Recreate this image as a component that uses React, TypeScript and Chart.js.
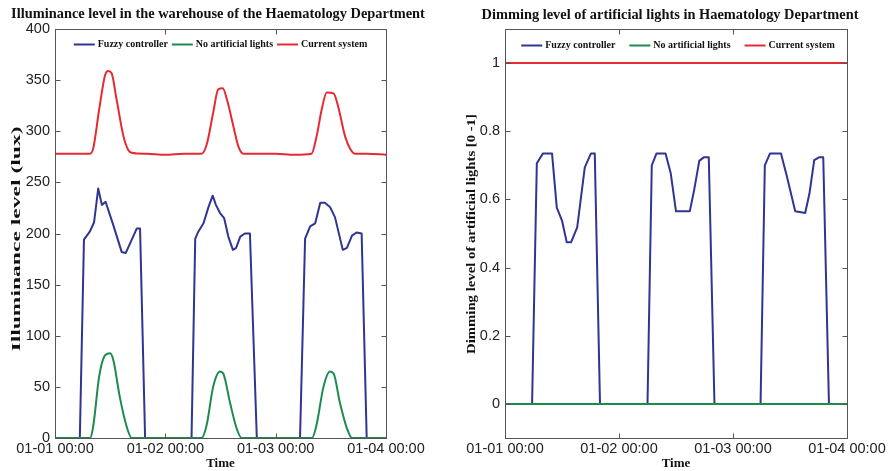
import React, { useEffect, useRef } from 'react';
import { Chart, registerables } from 'chart.js';

Chart.register(...registerables);

// ---------- shared axis data ----------
const dayTicks = [0, 24, 48, 72];
const dayLabels = ['01-01 00:00', '01-02 00:00', '01-03 00:00', '01-04 00:00'];
const seriesNames = ['Fuzzy controller', 'No artificial lights', 'Current system'];
const seriesColors = ['#2f3590', '#1d8a4e', '#e62a32'];

const luxTicks = [0, 50, 100, 150, 200, 250, 300, 350, 400];
const dimTicks = [0, 0.2, 0.4, 0.6, 0.8, 1];

// ---------- left chart: illuminance (lux) ----------
const fuzzyLuxHours = [
  0, 5.4, 6.3, 7.6, 8.5, 9.4, 10.2, 11.0, 12.7, 14.5, 15.4, 16.7, 17.8, 18.5, 19.6,
  29.7, 30.5, 31.2, 32.3, 33.4, 34.3, 35.0, 35.9, 36.8, 37.7, 38.7, 39.4, 40.3, 41.3, 42.4, 43.9,
  53.3, 54.4, 55.5, 56.6, 57.7, 58.7, 59.8, 60.9, 62.6, 63.5, 64.6, 65.6, 66.7, 67.8, 72,
];
const fuzzyLux = [
  0, 0, 194, 202, 211, 244, 228, 231, 208, 182, 181, 194, 205, 205, 0,
  0, 195, 202, 210, 226, 237, 228, 220, 215, 197, 184, 186, 197, 200, 200, 0,
  0, 195, 207, 210, 230, 230, 226, 216, 184, 186, 198, 201, 200, 0, 0,
];

const daylightLuxHours = [
  0, 7.6, 8.3, 9.6, 10.9, 12.0, 12.7, 14.1, 15.6, 16.7,
  31.9, 33.0, 34.4, 35.9, 36.6, 38.1, 39.5, 40.6,
  55.9, 56.9, 58.4, 59.8, 60.6, 62.0, 63.5, 64.6, 72,
];
const daylightLux = [
  0, 0, 11, 60, 81, 83, 76, 40, 11, 0,
  0, 13, 50, 65, 63, 34, 9.5, 0,
  0, 13, 50, 65, 63, 34, 9.5, 0, 0,
];

const currentLuxHours = [
  0, 7.6, 8.3, 9.6, 10.9, 11.6, 12.3, 13.4, 14.9, 15.9, 16.7,
  20, 24, 28,
  31.9, 33.0, 34.4, 35.5, 36.5, 37.4, 38.8, 39.9, 41.0,
  44, 48, 52,
  55.8, 56.9, 58.0, 59.1, 60.6, 61.6, 63.1, 64.2, 65.3,
  68, 72,
];
const currentLux = [
  278, 278, 283, 321, 355, 359, 357, 331, 295, 282, 279,
  278, 277, 278,
  278, 287, 318, 341, 342, 331, 305, 285, 278,
  278, 278, 277,
  278, 295, 321, 338, 337, 324, 295, 283, 278,
  278, 277,
];

// ---------- right chart: dimming level [0-1] ----------
const fuzzyDimHours = [
  0, 5.7, 6.7, 8.0, 9.9, 10.9, 12.0, 13.0, 13.9, 15.2, 16.8, 18.1, 18.9, 20.0,
  30.0, 30.9, 31.9, 33.8, 34.9, 36.0, 38.9, 39.8, 40.9, 41.9, 42.9, 44.1,
  53.8, 54.7, 55.8, 58.1, 59.3, 61.1, 63.2, 64.1, 65.1, 66.2, 67.0, 68.2, 72,
];
const fuzzyDim = [
  0, 0, 0.706, 0.735, 0.735, 0.576, 0.538, 0.474, 0.474, 0.518, 0.694, 0.735, 0.735, 0,
  0, 0.7, 0.735, 0.735, 0.676, 0.565, 0.565, 0.626, 0.713, 0.724, 0.724, 0,
  0, 0.7, 0.735, 0.735, 0.67, 0.565, 0.56, 0.618, 0.715, 0.724, 0.724, 0, 0,
];
const daylightDimHours = [0, 72];
const daylightDim = [0, 0];
const currentDimHours = [0, 72];
const currentDim = [1, 1];

// ---------- helpers ----------
const pts = (xs: number[], ys: number[]) => xs.map((x, i) => ({ x, y: ys[i] }));

const tickFont = { family: '"Liberation Sans", Arial, sans-serif', size: 14.5 };
const serif = '"Liberation Serif", "Times New Roman", serif';

const framePlugin = {
  id: 'frame',
  afterDatasetsDraw(chart: any) {
    const { ctx, chartArea: a, scales } = chart;
    const L = Math.round(a.left) + 0.5;
    const R = Math.round(a.right) + 0.5;
    const T = Math.round(a.top) + 0.5;
    const B = Math.round(a.bottom) + 0.5;
    ctx.save();
    ctx.strokeStyle = '#555';
    ctx.lineWidth = 1;
    ctx.strokeRect(L, T, R - L, B - T);
    ctx.beginPath();
    const tl = 5;
    scales.x.ticks.forEach((t: any) => {
      const p = Math.round(scales.x.getPixelForValue(t.value)) + 0.5;
      ctx.moveTo(p, T); ctx.lineTo(p, T + tl);
      ctx.moveTo(p, B); ctx.lineTo(p, B - tl);
    });
    scales.y.ticks.forEach((t: any) => {
      const p = Math.round(scales.y.getPixelForValue(t.value)) + 0.5;
      ctx.moveTo(L, p); ctx.lineTo(L + tl, p);
      ctx.moveTo(R, p); ctx.lineTo(R - tl, p);
    });
    ctx.stroke();
    ctx.restore();
  },
};

const insideLegendPlugin = {
  id: 'insideLegend',
  afterDraw(chart: any, _args: any, opts: any) {
    const { ctx, chartArea: a } = chart;
    ctx.save();
    ctx.font = `bold ${opts.size}px ${serif}`;
    const lineLen = 21;
    const textGap = 3;
    const widths = seriesNames.map((n) => ctx.measureText(n).width);
    const total = widths.reduce((s, w) => s + lineLen + textGap + w, 0) + opts.itemGap * (seriesNames.length - 1);
    let x = (a.left + a.right) / 2 - total / 2 + (opts.shift || 0);
    const y = Math.round(a.top + opts.offsetY) + 0.5;
    seriesNames.forEach((name, i) => {
      ctx.strokeStyle = seriesColors[i];
      ctx.lineWidth = 2;
      ctx.beginPath();
      ctx.moveTo(x, y);
      ctx.lineTo(x + lineLen, y);
      ctx.stroke();
      ctx.fillStyle = '#111';
      ctx.textAlign = 'left';
      ctx.textBaseline = 'middle';
      ctx.fillText(name, x + lineLen + textGap, y);
      x += lineLen + textGap + widths[i] + opts.itemGap;
    });
    ctx.restore();
  },
};

const textPlugin = {
  id: 'texts',
  afterDraw(chart: any, _args: any, opts: any) {
    const { ctx } = chart;
    ctx.save();
    ctx.fillStyle = '#111';
    ctx.textAlign = 'center';
    ctx.textBaseline = 'middle';
    // chart title
    ctx.font = `bold ${opts.titleSize}px ${serif}`;
    ctx.fillText(opts.title, opts.titleX, opts.titleY);
    // y axis title (stretched along its length)
    ctx.font = `bold ${opts.ySize}px ${serif}`;
    const w = ctx.measureText(opts.yText).width;
    ctx.translate(opts.yX, opts.yY);
    ctx.rotate(-Math.PI / 2);
    ctx.scale(opts.yLength / w, 1);
    ctx.fillText(opts.yText, 0, 0);
    ctx.restore();
  },
};

function lineSet(i: number, data: any[], order: number, smooth: boolean) {
  return {
    label: seriesNames[i],
    data,
    borderColor: seriesColors[i],
    backgroundColor: seriesColors[i],
    borderWidth: 2,
    pointRadius: 0,
    borderJoinStyle: 'round',
    borderCapStyle: 'round',
    tension: 0,
    cubicInterpolationMode: smooth ? 'monotone' : 'default',
    order,
  };
}

function xScale() {
  return {
    type: 'linear',
    min: 0,
    max: 72,
    afterBuildTicks: (s: any) => { s.ticks = dayTicks.map((v) => ({ value: v })); },
    afterFit: (s: any) => { s.height = 33; },
    grid: { display: false, drawTicks: false },
    border: { display: false },
    ticks: {
      autoSkip: false,
      maxRotation: 0,
      padding: 2,
      color: '#222',
      font: tickFont,
      callback: (_v: any, i: number) => dayLabels[i],
    },
    title: {
      display: true,
      text: 'Time',
      color: '#111',
      font: { family: serif, size: 13, weight: 'bold' },
      padding: { top: 0, bottom: 0 },
    },
  };
}

const leftConfig: any = {
  type: 'line',
  data: {
    datasets: [
      lineSet(0, pts(fuzzyLuxHours, fuzzyLux), 1, false),
      lineSet(1, pts(daylightLuxHours, daylightLux), 0, true),
      lineSet(2, pts(currentLuxHours, currentLux), 2, true),
    ],
  },
  options: {
    responsive: false,
    animation: false,
    layout: { padding: { left: 0, right: 50, top: 29, bottom: 0 } },
    plugins: {
      legend: { display: false },
      tooltip: { enabled: false },
      insideLegend: { size: 10, itemGap: 4, offsetY: 15, shift: 0 },
      texts: {
        title: 'Illuminance level in the warehouse of the Haematology Department',
        titleSize: 14.4, titleX: 218, titleY: 14,
        yText: 'Illuminance level (lux)', ySize: 13.5, yX: 16.5, yY: 239, yLength: 225,
      },
    },
    scales: {
      x: xScale(),
      y: {
        min: 0,
        max: 400,
        afterBuildTicks: (s: any) => { s.ticks = luxTicks.map((v) => ({ value: v })); },
        afterFit: (s: any) => { s.width = 55; },
        grid: { display: false, drawTicks: false },
        border: { display: false },
        ticks: { padding: 5, color: '#222', font: tickFont },
      },
    },
  },
  plugins: [framePlugin, insideLegendPlugin, textPlugin],
};

const rightConfig: any = {
  type: 'line',
  data: {
    datasets: [
      lineSet(0, pts(fuzzyDimHours, fuzzyDim), 1, false),
      lineSet(1, pts(daylightDimHours, daylightDim), 0, false),
      lineSet(2, pts(currentDimHours, currentDim), 2, false),
    ],
  },
  options: {
    responsive: false,
    animation: false,
    layout: { padding: { left: 0, right: 42, top: 29, bottom: 0 } },
    plugins: {
      legend: { display: false },
      tooltip: { enabled: false },
      insideLegend: { size: 10, itemGap: 14, offsetY: 16, shift: 2 },
      texts: {
        title: 'Dimming level of artificial lights in Haematology Department',
        titleSize: 14.4, titleX: 224, titleY: 15,
        yText: 'Dimming level of artificial lights [0 -1]', ySize: 12.5, yX: 26, yY: 234, yLength: 240,
      },
    },
    scales: {
      x: xScale(),
      y: {
        min: -0.1,
        max: 1.1,
        afterBuildTicks: (s: any) => { s.ticks = dimTicks.map((v) => ({ value: v })); },
        afterFit: (s: any) => { s.width = 59; },
        grid: { display: false, drawTicks: false },
        border: { display: false },
        ticks: {
          padding: 5,
          color: '#222',
          font: tickFont,
          callback: (v: any) => String(Math.round(Number(v) * 10) / 10),
        },
      },
    },
  },
  plugins: [framePlugin, insideLegendPlugin, textPlugin],
};

function ChartCanvas({ config, left, width, height }: { config: any; left: number; width: number; height: number }) {
  const ref = useRef<HTMLCanvasElement>(null);
  useEffect(() => {
    const chart = new Chart(ref.current as HTMLCanvasElement, config);
    return () => chart.destroy();
  }, [config]);
  return (
    <canvas
      ref={ref}
      width={width}
      height={height}
      style={{ position: 'absolute', left, top: 0, width, height }}
    />
  );
}

export default function App() {
  return (
    <div style={{ position: 'absolute', left: 0, top: 0, width: 889, height: 471, background: '#fff' }}>
      <ChartCanvas config={leftConfig} left={0} width={436} height={471} />
      <ChartCanvas config={rightConfig} left={446} width={443} height={471} />
    </div>
  );
}
